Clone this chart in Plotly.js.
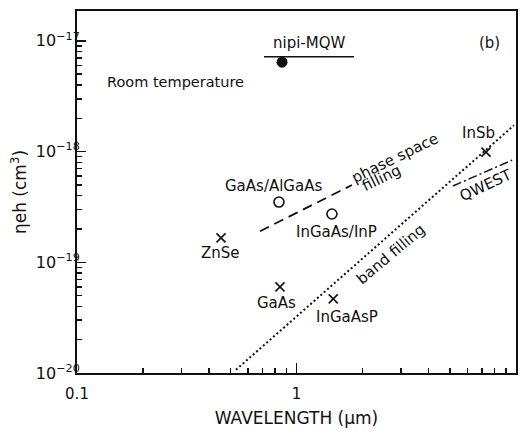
<!DOCTYPE html>
<html>
<head>
<meta charset="utf-8">
<script src="https://cdn.plot.ly/plotly-3.0.1.min.js"></script>
<style>html,body{margin:0;padding:0;background:#fff;}#chart{width:522px;height:434px;}</style>
</head>
<body>
<div id="chart"></div>
<script>
// ---- data (wavelength in µm, ηeh in cm^3) ----
const crossNames = ['ZnSe', 'GaAs', 'InGaAsP', 'InSb'];
const crossX = [0.453, 0.841, 1.47, 7.3];
const crossY = [1.66e-19, 6.0e-20, 4.67e-20, 9.9e-19];

const circleNames = ['GaAs/AlGaAs', 'InGaAs/InP'];
const circleX = [0.832, 1.45];
const circleY = [3.5e-19, 2.73e-19];

const nipiDotX = [0.859];
const nipiDotY = [6.42e-18];
const nipiLineX = [0.711, 1.83];
const nipiLineY = [7.2e-18, 7.2e-18];

const phaseLineX = [0.682, 1.79];
const phaseLineY = [1.91e-19, 4.99e-19];

const bandLineX = [0.53, 9.8];
const bandLineY = [1.07e-20, 1.73e-18];

const qwestLineX = [5.16, 9.6];
const qwestLineY = [4.89e-19, 8.37e-19];

const xTickVals = [0.1, 1, 10];
const xTickText = ['0.1', '1', '10'];
const yTickVals = [1e-20, 1e-19, 1e-18, 1e-17];
const yTickText = ['10<sup>\u221220</sup>', '10<sup>\u221219</sup>', '10<sup>\u221218</sup>', '10<sup>\u221217</sup>'];

// minor tick positions (2..9 per decade)
function minors(lo, hi) {
  const out = [];
  for (let e = lo; e < hi; e++) for (let m = 2; m <= 9; m++) out.push(m * Math.pow(10, e));
  return out;
}

const FONT = 'DejaVu Sans';
const black = '#111';
const TICKC = black;

const traces = [
  {x: bandLineX, y: bandLineY, mode: 'lines', line: {color: black, width: 2, dash: '2px,2.5px'}, hoverinfo: 'skip'},
  {x: phaseLineX, y: phaseLineY, mode: 'lines', line: {color: black, width: 1.8, dash: '10px,6px'}, hoverinfo: 'skip'},
  {x: qwestLineX, y: qwestLineY, mode: 'lines', line: {color: black, width: 1.5, dash: '9px,3px,2px,3px'}, hoverinfo: 'skip'},
  {x: nipiLineX, y: nipiLineY, mode: 'lines', line: {color: black, width: 1.6}, hoverinfo: 'skip'},
  {x: nipiDotX, y: nipiDotY, mode: 'markers', marker: {symbol: 'circle', size: 11, color: black}},
  {x: circleX, y: circleY, mode: 'markers', text: circleNames,
   marker: {symbol: 'circle-open', size: 10, color: black, line: {width: 1.6, color: black}}},
  {x: crossX, y: crossY, mode: 'markers', text: crossNames,
   marker: {symbol: 'x-thin-open', size: 9, color: black, line: {width: 1.6, color: black}}},
  // invisible carrier so the minor-tick overlay axes are drawn
  {x: [xTickVals[0]], y: [yTickVals[0]], xaxis: 'x2', yaxis: 'y2', mode: 'markers', marker: {opacity: 0}, hoverinfo: 'skip'}
];

const lg = Math.log10;
const labelShift = {
  'ZnSe': [-1, -15], 'GaAs': [-3, -16], 'InGaAsP': [14, -18], 'InSb': [-8, 19],
  'GaAs/AlGaAs': [-5, 16], 'InGaAs/InP': [5, -18]
};
const annotations = [];
crossNames.forEach((n, i) => annotations.push({x: lg(crossX[i]), y: lg(crossY[i]), text: n,
  xshift: labelShift[n][0], yshift: labelShift[n][1]}));
circleNames.forEach((n, i) => annotations.push({x: lg(circleX[i]), y: lg(circleY[i]), text: n,
  xshift: labelShift[n][0], yshift: labelShift[n][1]}));
annotations.push({x: (lg(nipiLineX[0]) + lg(nipiLineX[1])) / 2, y: lg(nipiLineY[0]), text: 'nipi-MQW', yshift: 14});
annotations.push({x: 0.877, y: -17.02, text: '(b)'});
annotations.push({x: -0.549, y: -17.373, text: 'Room temperature', font: {family: FONT, size: 14.5, color: black}});
annotations.push({x: 0.449, y: -18.059, text: 'phase space', textangle: -26});
annotations.push({x: 0.387, y: -18.24, text: 'filling', textangle: -26});
annotations.push({x: 0.431, y: -18.925, text: 'band filling', textangle: -40});
annotations.push({x: 0.865, y: -18.30, text: 'QWEST', textangle: -25});
annotations.forEach(a => {
  a.xref = 'x'; a.yref = 'y'; a.showarrow = false;
  if (!a.font) a.font = {family: FONT, size: 15, color: black};
});

const layout = {
  width: 522, height: 434,
  margin: {l: 77, r: 6, t: 11, b: 61},
  paper_bgcolor: '#fff', plot_bgcolor: '#fff',
  showlegend: false,
  font: {family: FONT, color: black},
  xaxis: {
    type: 'log', range: [-1, 1], showgrid: false, zeroline: false,
    showline: true, linecolor: black, linewidth: 2, mirror: true,
    ticks: 'inside', ticklen: 10, tickwidth: 1.5, tickcolor: TICKC,
    tickmode: 'array', tickvals: xTickVals, ticktext: xTickText,
    tickfont: {family: FONT, size: 15, color: black},
    ticklabelstandoff: 6,
    title: {text: 'WAVELENGTH (\u03bcm)', font: {family: FONT, size: 17, color: black}, standoff: 10}
  },
  yaxis: {
    type: 'log', range: [-20, -16.73], showgrid: false, zeroline: false,
    showline: true, linecolor: black, linewidth: 2, mirror: true,
    ticks: 'inside', ticklen: 9, tickwidth: 1.5, tickcolor: TICKC,
    tickmode: 'array', tickvals: yTickVals, ticktext: yTickText,
    tickfont: {family: FONT, size: 16, color: black},
    ticklabelstandoff: -8,
    title: {text: '\u03b7eh (cm<sup>3</sup>)', font: {family: FONT, size: 17, color: black}, standoff: 5}
  },
  xaxis2: {
    type: 'log', range: [-1, 1], overlaying: 'x', anchor: 'y2', side: 'bottom',
    showgrid: false, zeroline: false, showline: false, showticklabels: false,
    ticks: 'inside', ticklen: 5, tickwidth: 1.5, tickcolor: TICKC,
    tickmode: 'array', tickvals: minors(-1, 1)
  },
  yaxis2: {
    type: 'log', range: [-20, -16.73], overlaying: 'y', anchor: 'x2', side: 'left',
    showgrid: false, zeroline: false, showline: false, showticklabels: false,
    ticks: 'inside', ticklen: 5, tickwidth: 1.5, tickcolor: TICKC,
    tickmode: 'array', tickvals: minors(-20, -17)
  },
  annotations: annotations
};

Plotly.newPlot('chart', traces, layout, {staticPlot: true, displayModeBar: false});
</script>
</body>
</html>
